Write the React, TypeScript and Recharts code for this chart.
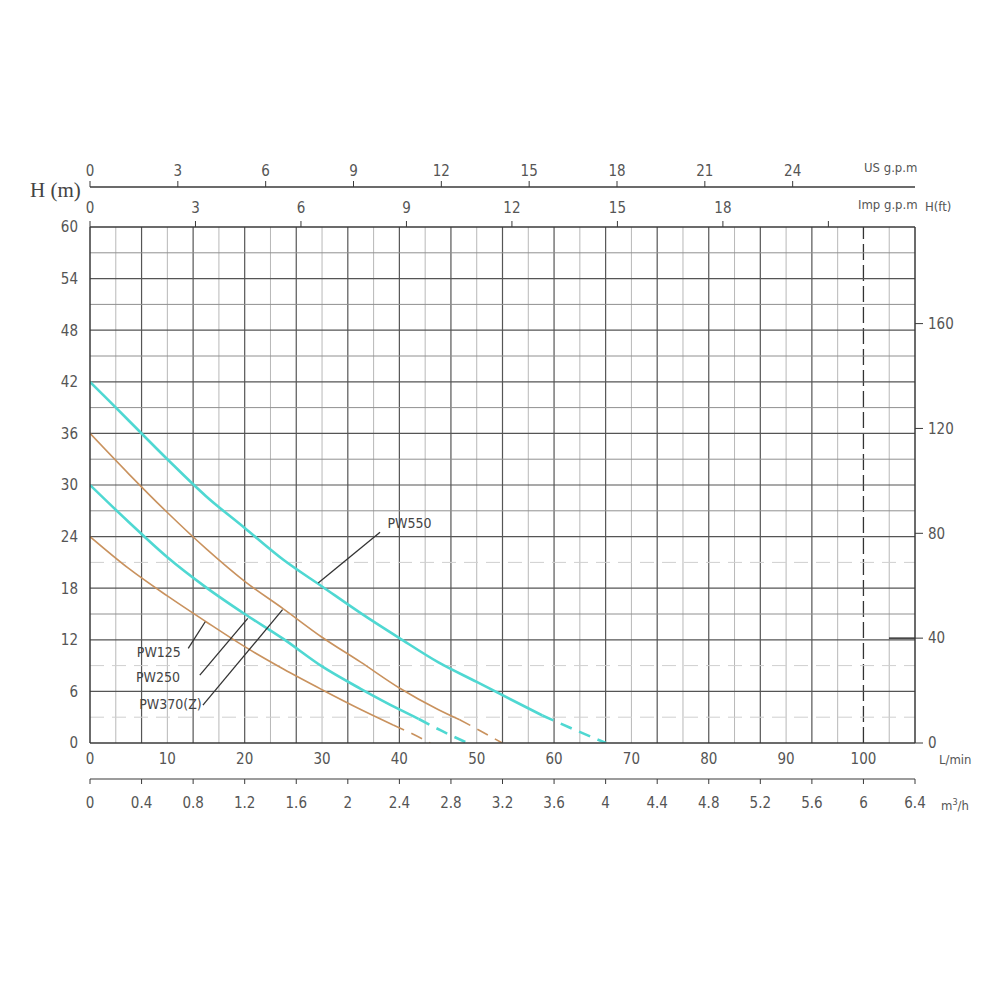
import React from 'react';
import {
  ComposedChart, Line, XAxis, YAxis, ReferenceLine, ReferenceDot,
} from 'recharts';

// pump curves: flow in L/min, head in m
const pw550Flow = [0, 5, 10, 15, 20, 25, 30, 35, 40, 45, 50, 55, 58.5];
const pw550Head = [42, 37.5, 33, 28.7, 25, 21.3, 18.2, 15.1, 12.2, 9.4, 7.1, 4.8, 3.2];
const pw550DashFlow = [58.5, 62, 66.7];
const pw550DashHead = [3.2, 1.8, 0];

const pw370Flow = [0, 5, 10, 15, 20, 25, 30, 35, 40, 45, 47.8];
const pw370Head = [36, 31.3, 26.8, 22.6, 18.8, 15.6, 12.3, 9.4, 6.4, 3.9, 2.7];
const pw370DashFlow = [47.8, 50.5, 53.3];
const pw370DashHead = [2.7, 1.4, 0];

const pw250Flow = [0, 5, 10, 15, 20, 25, 30, 35, 40, 42.5];
const pw250Head = [30, 25.7, 21.6, 18.1, 15, 12.1, 8.9, 6.3, 3.9, 2.8];
const pw250DashFlow = [42.5, 45.5, 48.8];
const pw250DashHead = [2.8, 1.4, 0];

const pw125Flow = [0, 5, 10, 15, 20, 25, 30, 35, 39.2];
const pw125Head = [24, 20.3, 17.1, 14.1, 11.2, 8.6, 6.2, 3.9, 2.1];
const pw125DashFlow = [39.2, 41.6, 44];
const pw125DashHead = [2.1, 1.1, 0];

// axis ticks
const headTicks = [0, 6, 12, 18, 24, 30, 36, 42, 48, 54, 60];
const feetTicks = [0, 40, 80, 120, 160];
const lpmTicks = [0, 10, 20, 30, 40, 50, 60, 70, 80, 90, 100];
const m3hTicks = [0, 0.4, 0.8, 1.2, 1.6, 2, 2.4, 2.8, 3.2, 3.6, 4, 4.4, 4.8, 5.2, 5.6, 6, 6.4];
const usTicks = [0, 3, 6, 9, 12, 15, 18, 21, 24];
const impTicks = [0, 3, 6, 9, 12, 15, 18, 21];

// grid lines
const gridMajorM3h = [0.4, 0.8, 1.2, 1.6, 2, 2.4, 2.8, 3.2, 3.6, 4, 4.4, 4.8, 5.2, 5.6];
const gridMinorM3h = [0.2, 0.6, 1, 1.4, 1.8, 2.2, 2.6, 3, 3.4, 3.8, 4.2, 4.6, 5, 5.4, 5.8, 6.2];
const gridDashLpm = [100];
const gridMajorHead = [6, 12, 18, 24, 30, 36, 42, 48, 54];
const gridMinorHead = [15, 27, 33, 39, 45, 51, 57];
const gridDashHead = [3, 9, 21];

// labels with their leader lines (L/min, m)
const modelNames = ['PW125', 'PW250', 'PW370(Z)', 'PW550'];
const labelFlow = [8.9, 8.8, 10.4, 41.3];
const labelHead = [10.6, 7.7, 4.5, 25.6];
const leaderFrom = [[12.7, 11.0], [14.2, 7.9], [14.6, 4.4], [29.5, 18.6]];
const leaderTo = [[14.9, 14.1], [20.4, 14.5], [24.9, 15.5], [37.5, 24.5]];

const toRows = (flow: number[], head: number[]) => flow.map((f, i) => ({ flow: f, head: head[i] }));

const CYAN = '#4fd8d2';
const BROWN = '#c9925e';
const AXIS = '#3a3a3a';
const FONT = '"Liberation Sans Narrow", "DejaVu Sans Condensed", "Liberation Sans", sans-serif';
const tickStyle = { fontSize: 15, fill: '#555', fontFamily: FONT };

const LPM_MAX = 6.4 * 1000 / 60;
const US_MAX = LPM_MAX / 3.78541;
const IMP_MAX = LPM_MAX / 4.54609;
const FT_MAX = 60 * 3.28084;

// rows that only bind the secondary flow axes to the chart (drawn invisible)
const m3hRows = m3hTicks.map((v) => ({ m3h: v, head: 0 }));
const usRows = usTicks.map((v) => ({ us: v, head: 0 }));
const impRows = impTicks.map((v) => ({ imp: v, head: 0 }));

const unitStyle: React.CSSProperties = {
  position: 'absolute', fontFamily: FONT, fontSize: 13, color: '#555', lineHeight: '16px', whiteSpace: 'nowrap',
};

const curves = [
  { solid: toRows(pw550Flow, pw550Head), dash: toRows(pw550DashFlow, pw550DashHead), color: CYAN, w: 2.6 },
  { solid: toRows(pw370Flow, pw370Head), dash: toRows(pw370DashFlow, pw370DashHead), color: BROWN, w: 1.6 },
  { solid: toRows(pw250Flow, pw250Head), dash: toRows(pw250DashFlow, pw250DashHead), color: CYAN, w: 2.6 },
  { solid: toRows(pw125Flow, pw125Head), dash: toRows(pw125DashFlow, pw125DashHead), color: BROWN, w: 1.6 },
];

export default function App() {
  return (
    <div style={{ position: 'absolute', left: 0, top: 0, width: 1000, height: 1000, background: '#fff' }}>
      <ComposedChart width={1000} height={1000} margin={{ top: 147, right: 0, bottom: 181, left: 0 }}>
        <XAxis
          xAxisId="lpm" dataKey="flow" type="number" orientation="bottom" domain={[0, LPM_MAX]}
          allowDataOverflow ticks={lpmTicks} interval={0} height={36}
          axisLine={{ stroke: AXIS, strokeWidth: 1.5 }} tickLine={false} tickSize={0} tickMargin={10} tick={tickStyle}
        />
        <XAxis
          xAxisId="m3h" dataKey="m3h" type="number" orientation="bottom" domain={[0, 6.4]} allowDataOverflow
          ticks={m3hTicks} interval={0} height={40}
          axisLine={{ stroke: AXIS, strokeWidth: 1.2 }} tickLine={{ stroke: AXIS }} tickSize={5} tickMargin={13} tick={tickStyle}
        />
        <XAxis
          xAxisId="imp" dataKey="imp" type="number" orientation="top" domain={[0, IMP_MAX]} allowDataOverflow
          ticks={impTicks} interval={0} height={40}
          tickFormatter={(v: number) => (v === 21 ? '' : String(v))}
          axisLine={{ stroke: AXIS, strokeWidth: 1.5 }} tickLine={{ stroke: AXIS }} tickSize={6} tickMargin={8} tick={tickStyle}
        />
        <XAxis
          xAxisId="us" dataKey="us" type="number" orientation="top" domain={[0, US_MAX]} allowDataOverflow
          ticks={usTicks} interval={0} height={40}
          axisLine={{ stroke: AXIS, strokeWidth: 1.5 }} tickLine={{ stroke: AXIS }} tickSize={6} tickMargin={5} tick={tickStyle}
        />
        <YAxis
          yAxisId="m" type="number" orientation="left" domain={[0, 60]} allowDataOverflow
          ticks={headTicks} interval={0} width={90}
          axisLine={{ stroke: AXIS, strokeWidth: 1.5 }} tickLine={false} tickSize={0} tickMargin={12} tick={tickStyle}
        />
        <YAxis
          yAxisId="ft" type="number" orientation="right" domain={[0, FT_MAX]} allowDataOverflow
          ticks={feetTicks} interval={0} width={85}
          axisLine={{ stroke: AXIS, strokeWidth: 1.5 }} tickLine={{ stroke: AXIS }} tickSize={8} tickMargin={5} tick={tickStyle}
        />

        <Line xAxisId="m3h" yAxisId="m" data={m3hRows} dataKey="head" stroke="none" dot={false} activeDot={false} isAnimationActive={false} />
        <Line xAxisId="us" yAxisId="m" data={usRows} dataKey="head" stroke="none" dot={false} activeDot={false} isAnimationActive={false} />
        <Line xAxisId="imp" yAxisId="m" data={impRows} dataKey="head" stroke="none" dot={false} activeDot={false} isAnimationActive={false} />

        {gridMinorM3h.map((v) => (
          <ReferenceLine key={`vm${v}`} xAxisId="m3h" yAxisId="m" x={v} stroke="#b8b8b8" strokeWidth={1} />
        ))}
        {gridMajorM3h.map((v) => (
          <ReferenceLine key={`vM${v}`} xAxisId="m3h" yAxisId="m" x={v} stroke="#555" strokeWidth={1.2} />
        ))}
        {gridDashLpm.map((v) => (
          <ReferenceLine key={`vd${v}`} xAxisId="lpm" yAxisId="m" x={v} stroke="#333" strokeWidth={1.3} strokeDasharray="16 5" />
        ))}
        {gridMinorHead.map((v) => (
          <ReferenceLine key={`hm${v}`} xAxisId="lpm" yAxisId="m" y={v} stroke="#909090" strokeWidth={1} />
        ))}
        {gridMajorHead.map((v) => (
          <ReferenceLine key={`hM${v}`} xAxisId="lpm" yAxisId="m" y={v} stroke="#555" strokeWidth={1.2} />
        ))}
        {gridDashHead.map((v) => (
          <ReferenceLine key={`hd${v}`} xAxisId="lpm" yAxisId="m" y={v} stroke="#cfcfcf" strokeWidth={1} strokeDasharray="14 8" />
        ))}
        {/* the 40 ft mark runs a little way into the grid */}
        <ReferenceLine
          xAxisId="lpm" yAxisId="ft" segment={[{ x: 103.3, y: 40 }, { x: LPM_MAX, y: 40 }]}
          stroke="#333" strokeWidth={1.5}
        />

        {curves.map((c, i) => (
          <Line
            key={`s${i}`} xAxisId="lpm" yAxisId="m" data={c.solid} dataKey="head" type="monotone"
            stroke={c.color} strokeWidth={c.w} dot={false} activeDot={false} isAnimationActive={false}
          />
        ))}
        {curves.map((c, i) => (
          <Line
            key={`d${i}`} xAxisId="lpm" yAxisId="m" data={c.dash} dataKey="head" type="monotone"
            stroke={c.color} strokeWidth={c.w} strokeDasharray="12 8" dot={false} activeDot={false} isAnimationActive={false}
          />
        ))}

        {modelNames.map((name, i) => (
          <ReferenceLine
            key={`l${name}`} xAxisId="lpm" yAxisId="m"
            segment={[{ x: leaderFrom[i][0], y: leaderFrom[i][1] }, { x: leaderTo[i][0], y: leaderTo[i][1] }]}
            stroke="#333" strokeWidth={1.3}
          />
        ))}
        {modelNames.map((name, i) => (
          <ReferenceDot
            key={`t${name}`} xAxisId="lpm" yAxisId="m" x={labelFlow[i]} y={labelHead[i]} r={0}
            fill="none" stroke="none"
            label={{ value: name, position: 'center', fill: '#444', fontSize: 14, fontFamily: FONT }}
          />
        ))}
      </ComposedChart>

      <div style={{ position: 'absolute', left: 30, top: 178, fontFamily: '"Liberation Serif", serif', fontSize: 21, color: '#444', lineHeight: '24px' }}>
        H (m)
      </div>
      <div style={{ ...unitStyle, left: 864, top: 160 }}>US g.p.m</div>
      <div style={{ ...unitStyle, left: 858, top: 197 }}>Imp g.p.m</div>
      <div style={{ ...unitStyle, left: 925, top: 199 }}>H(ft)</div>
      <div style={{ ...unitStyle, left: 939, top: 752 }}>L/min</div>
      <div style={{ ...unitStyle, left: 941, top: 794 }}>m<sup style={{ fontSize: 9 }}>3</sup>/h</div>
    </div>
  );
}
